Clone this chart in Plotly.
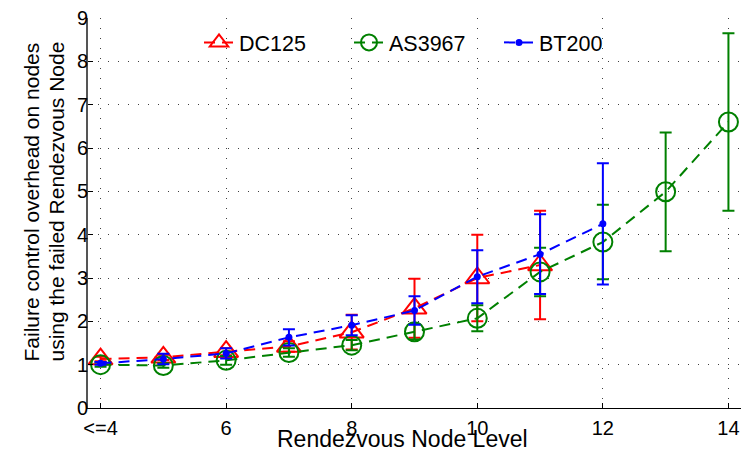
import plotly.graph_objects as go

# Rendezvous node level (4 stands for "<=4")
levels = [4, 5, 6, 7, 8, 9, 10, 11, 12, 13, 14]

# Mean failure-control overhead and error half-widths per network
dc125_mean = [1.13, 1.17, 1.30, 1.42, 1.75, 2.30, 3.00, 3.30]
dc125_err = [0.05, 0.06, 0.08, 0.12, 0.40, 0.68, 1.00, 1.25]

as3967_mean = [1.00, 0.98, 1.10, 1.28, 1.45, 1.76, 2.07, 3.14, 3.83, 4.99, 6.60]
as3967_err = [0.05, 0.05, 0.10, 0.10, 0.12, 0.18, 0.30, 0.56, 0.86, 1.37, 2.05]

bt200_mean = [1.03, 1.13, 1.26, 1.63, 1.91, 2.25, 3.03, 3.55, 4.25]
bt200_err = [0.03, 0.12, 0.12, 0.19, 0.23, 0.33, 0.61, 0.92, 1.40]

x_tickvals = [4, 6, 8, 10, 12, 14]
x_ticktext = ["<=4", "6", "8", "10", "12", "14"]

y_title_lines = ["Failure control overhead on nodes", "using the failed Rendezvous Node"]
x_title = "Rendezvous Node Level"

FONT = "Liberation Sans, Arial, sans-serif"
DASH = "11px,7px"

series = [
    ("DC125", dc125_mean, dc125_err, "#ff0000",
     dict(symbol="triangle-up-open", size=21, line=dict(width=2, color="#ff0000"))),
    ("AS3967", as3967_mean, as3967_err, "#008000",
     dict(symbol="circle-open", size=19, line=dict(width=2, color="#008000"))),
    ("BT200", bt200_mean, bt200_err, "#0000ff",
     dict(symbol="circle", size=7, color="#0000ff")),
]

fig = go.Figure()
for name, mean, err, color, marker in series:
    fig.add_trace(go.Scatter(
        x=levels[:len(mean)],
        y=mean,
        name=name,
        mode="lines+markers",
        line=dict(color=color, width=2, dash=DASH),
        marker=marker,
        error_y=dict(type="data", array=err, visible=True,
                     color=color, thickness=2, width=6),
    ))

grid = dict(showgrid=True, gridcolor="rgba(0,0,0,0.75)", gridwidth=1,
            griddash="1px,9px")

# rotated y title, one annotation per line so the line spacing stays tight
annots = []
for text, xpos in zip(y_title_lines, [-0.0858, -0.049]):
    annots.append(dict(text=text, xref="paper", yref="paper",
                       x=xpos, y=0.5295, xanchor="center", yanchor="middle",
                       textangle=-90, showarrow=False, font=dict(size=21)))
annots.append(dict(text=x_title, xref="paper", yref="paper",
                   x=0.482, y=-0.118, xanchor="center", yanchor="bottom",
                   showarrow=False, font=dict(size=23)))

fig.update_layout(
    width=743, height=454,
    margin=dict(l=88, r=2, t=18, b=46),
    paper_bgcolor="white", plot_bgcolor="white",
    font=dict(family=FONT, size=20, color="black"),
    showlegend=True,
    legend=dict(orientation="h", x=0.17, xanchor="left", y=0.99, yanchor="top",
                font=dict(size=21.5), bgcolor="rgba(255,255,255,0)",
                entrywidth=105, entrywidthmode="pixels"),
    xaxis=dict(range=[3.8, 14.2], tickvals=x_tickvals, ticktext=x_ticktext,
               ticks="inside", ticklen=5, tickcolor="black",
               showline=True, linecolor="black", linewidth=1,
               zeroline=False, tickfont=dict(size=20), ticklabelstandoff=2,
               **grid),
    yaxis=dict(range=[0, 9], dtick=1, ticks="inside", ticklen=5, tickcolor="black",
               showline=True, linecolor="#555555", linewidth=2,
               zeroline=False, tickfont=dict(size=20), ticklabelstandoff=-6,
               **grid),
    annotations=annots,
)

fig.write_html("out.html")
